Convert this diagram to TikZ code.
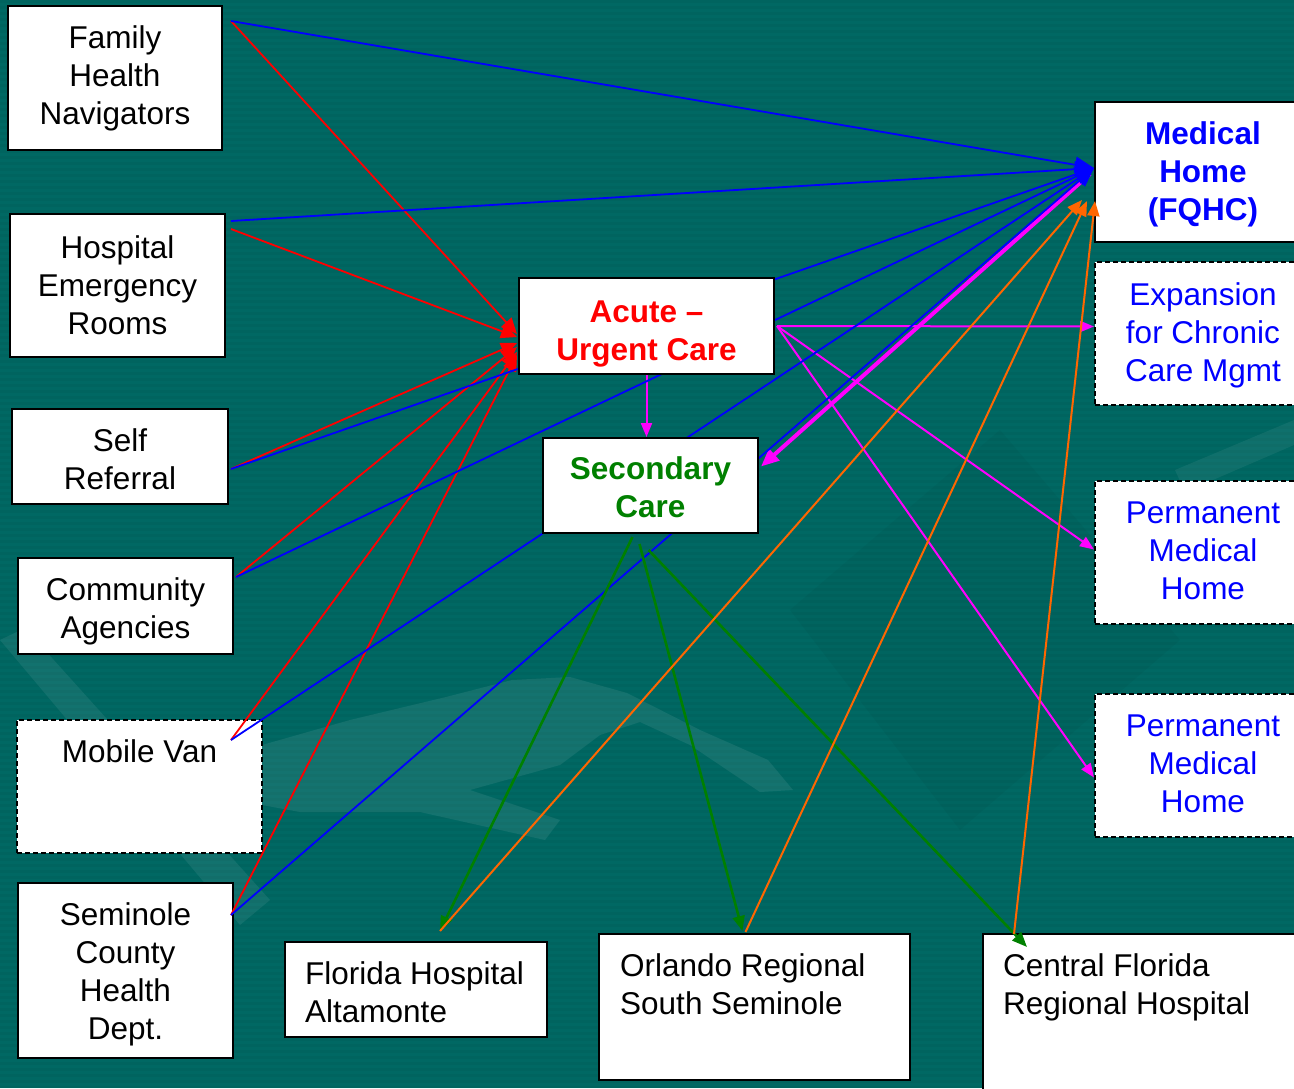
\documentclass[tikz,border=0pt]{standalone}
\usepackage{fontspec}
\setmainfont{Liberation Sans}
\usetikzlibrary{arrows.meta,calc}
\pgfdeclarelayer{front}
\pgfsetlayers{main,front}
\definecolor{bgteal}{RGB}{0,104,99}
\definecolor{dgreen}{RGB}{0,128,0}
\definecolor{orng}{RGB}{255,102,0}
\definecolor{magn}{RGB}{255,0,255}
\newcommand{\mydn}[1]{\rule{0pt}{#1}}
\newcommand{\myup}[1]{\rule[-#1]{0pt}{0pt}}
\begin{document}
\begin{tikzpicture}[x=1pt,y=-1pt,
  box/.style={draw=black,line width=2pt,fill=white,inner sep=0pt,align=center,
    font=\fontsize{31.5}{38}\selectfont},
  dbox/.style={box,dash pattern=on 5pt off 3pt},
  txt/.style={inner sep=0pt,align=left,font=\fontsize{31.5}{38}\selectfont},
  redl/.style={draw=red,line width=1.8pt,-{Triangle[length=16pt,width=14pt]}},
  bluel/.style={draw=blue,line width=1.8pt,-{Triangle[length=19pt,width=16pt]}},
  magl/.style={draw=magn,line width=2pt,-{Triangle[length=14pt,width=11pt]}},
  grnl/.style={draw=dgreen,line width=2.6pt,-{Triangle[length=15pt,width=12pt]}},
  orl/.style={draw=orng,line width=2pt,-{Triangle[length=15pt,width=12pt]}}]
\useasboundingbox (0,0) rectangle (1294,1088);
\clip (0,0) rectangle (1294,1088);
% background
\fill[bgteal] (0,0) rectangle (1294,1088);
\foreach \yy in {0,6,...,1086} \fill[black,opacity=0.035] (0,\yy) rectangle (1294,\yy+3);
\fill[white,opacity=0.07] (0,640) -- (25,628) -- (270,900) -- (240,925) -- cycle;
\fill[white,opacity=0.08] (262,745) -- (350,720) -- (446,697) -- (512,680) -- (570,677) -- (627,693) -- (700,730) -- (768,760) -- (793,790) -- (760,792) -- (690,745) -- (640,722) -- (600,735) -- (560,765) -- (470,790) -- (560,820) -- (545,840) -- (420,812) -- (300,812) -- (262,805) -- cycle;
\fill[white,opacity=0.06] (1175,470) -- (1294,420) -- (1294,445) -- (1185,492) -- cycle;
\fill[black,opacity=0.035] (790,610) -- (1000,430) -- (1180,640) -- (960,830) -- cycle;
% front boxes
\begin{pgfonlayer}{front}
\node[box,minimum width=255pt,minimum height=96pt,font=\fontsize{31.5}{38}\selectfont\bfseries,text=red] (acute) at (646.5,326) {\mydn{37pt}Acute –\\Urgent Care};
\node[box,minimum width=215pt,minimum height=95pt,font=\fontsize{31.5}{38}\selectfont\bfseries,text=dgreen] (sec) at (650.5,485.5) {\mydn{27pt}Secondary\\Care};
\end{pgfonlayer}
% left boxes
\node[box,minimum width=214pt,minimum height=144pt] (fam) at (115,78) {Family\\Health\\Navigators};
\node[box,minimum width=215pt,minimum height=143pt] (her) at (117.5,285.5) {Hospital\\Emergency\\Rooms};
\node[box,minimum width=216pt,minimum height=95pt] (sr) at (120,456.5) {\mydn{29pt}Self\\Referral};
\node[box,minimum width=215pt,minimum height=96pt] (ca) at (125.5,606) {\mydn{33pt}Community\\Agencies};
\node[dbox,minimum width=245pt,minimum height=133pt] (mv) at (139.5,786.5) {};
\node[txt] (mvtext) at ($(mv.north)+(0,32)$) {Mobile Van};
\node[box,minimum width=215pt,minimum height=175pt] (sch) at (125.5,970.5) {\mydn{31pt}Seminole\\County\\Health\\Dept.};
% right boxes
\node[box,minimum width=216pt,minimum height=140pt,font=\fontsize{31.5}{38}\selectfont\bfseries,text=blue] (mh) at (1203,172) {\mydn{27pt}Medical\\Home\\(FQHC)};
\node[dbox,minimum width=216pt,minimum height=143pt,text=blue] (exp) at (1203,333.5) {\mydn{27pt}Expansion\\for Chronic\\Care Mgmt};
\node[dbox,minimum width=216pt,minimum height=143pt,text=blue] (pm1) at (1203,552.5) {Permanent\\Medical\\Home\myup{4pt}};
\node[dbox,minimum width=216pt,minimum height=143pt,text=blue] (pm2) at (1203,765.5) {Permanent\\Medical\\Home\myup{4pt}};
% bottom boxes
\node[box,minimum width=262pt,minimum height=95pt] (fha) at (416,989.5) {};
\node[txt,anchor=west] (fhatext) at (305,992) {Florida Hospital\\Altamonte};
\node[box,minimum width=311pt,minimum height=146pt] (orl) at (754.5,1007) {};
\node[txt,anchor=west] (orltext) at (620,984) {Orlando Regional\\South Seminole};
\node[box,minimum width=330pt,minimum height=180pt] (cfr) at (1148,1024) {};
\node[txt,anchor=west] (cfrtext) at (1003,987) {Central Florida\\Regional Hospital};
% source points
\coordinate (famP) at ($(fam.north east)+(8,16)$);
\coordinate (herB) at ($(her.north east)+(5,8)$);
\coordinate (herR) at ($(her.north east)+(5,16)$);
\coordinate (srP) at ($(sr.east)+(2,12.5)$);
\coordinate (caP) at ($(ca.north east)+(2,20)$);
\coordinate (mvP) at ($(mv.north east)+(-32,21)$);
\coordinate (schP) at ($(sch.north east)+(-3,33)$);
\coordinate (mhB) at ($(mh.west)+(0,-4)$);
% magenta
\draw[magl] (acute.south) -- (acute.south |- sec.north);
\draw[magl] ($(acute.east)+(2,0)$) -- ($(exp.west)+(0,-7)$);
\draw[magl] ($(acute.east)+(2,0)$) -- ($(pm1.west)+(0,-3)$);
\draw[magl] ($(acute.east)+(2,0)$) -- ($(pm2.west)+(0,12)$);
\draw[draw=magn,line width=4pt,-{Triangle[length=18pt,width=15pt]}] ($(mh.west)+(-4,2)$) -- ($(sec.east)+(2,-19)$);
% red
\draw[redl] (famP) -- ($(acute.west)+(-1,8)$);
\draw[redl] (herR) -- ($(acute.west)+(-1,11)$);
\draw[redl] (srP) -- ($(acute.west)+(-1,17)$);
\draw[redl] (caP) -- ($(acute.west)+(-1,21)$);
\draw[redl] (mvP) -- ($(acute.west)+(-1,26)$);
\draw[redl] (schP) -- ($(acute.west)+(-1,29)$);
% blue
\draw[bluel] (famP) -- (mhB);
\draw[bluel] (herB) -- (mhB);
\draw[bluel] (srP) -- (mhB);
\draw[bluel] (caP) -- (mhB);
\draw[bluel] (mvP) -- (mhB);
\draw[bluel] (schP) -- (mhB);
% green
\draw[grnl] ($(sec.south)+(-18,3)$) -- ($(fha.north)+(24,-10)$);
\draw[grnl] ($(sec.south)+(-11,10)$) -- ($(orl.north)+(-12,-2)$);
\draw[grnl] ($(sec.south)+(-2,16)$) -- ($(cfr.north west)+(45,14)$);
% orange
\draw[orl] ($(fha.north)+(24,-10)$) -- ($(mh.south west)+(-12,-43)$);
\draw[orl] ($(orl.north)+(-9,-1)$) -- ($(mh.south west)+(-7,-42)$);
\draw[orl] ($(cfr.north west)+(32,1)$) -- ($(mh.south west)+(1,-42)$);
\end{tikzpicture}
\end{document}
